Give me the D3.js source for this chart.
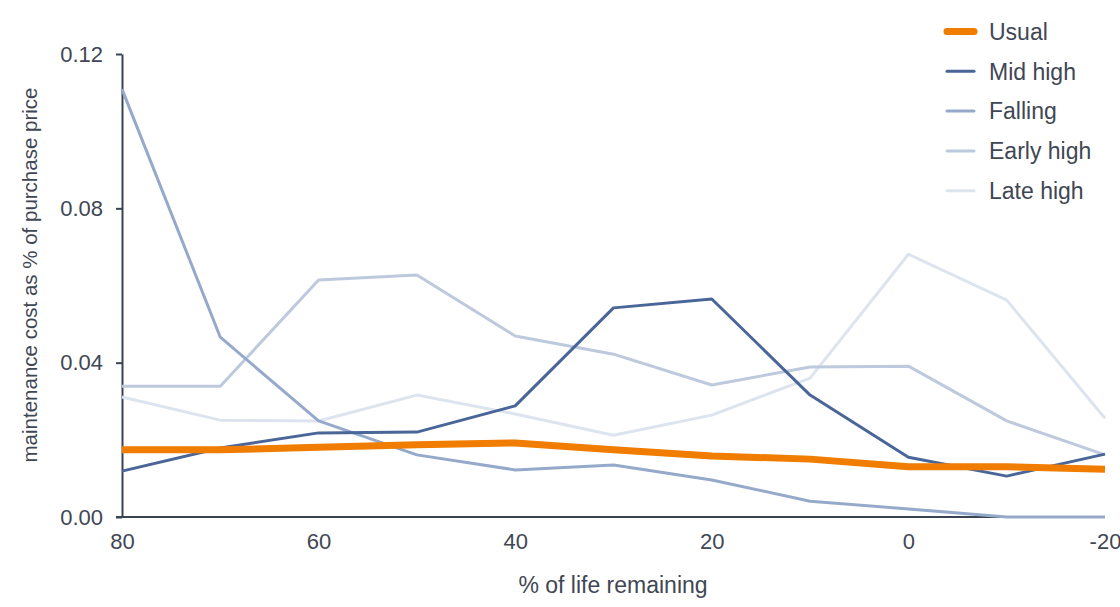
<!DOCTYPE html>
<html><head><meta charset="utf-8">
<script src="https://cdn.jsdelivr.net/npm/d3@7"></script>
<style>
html,body{margin:0;padding:0;background:#fff;}
text{font-family:"Liberation Sans",Arial,sans-serif;fill:#3f4754;}
</style></head>
<body><svg id="c" width="1120" height="607"></svg>
<script>
const xValues = [80,70,60,50,40,30,20,10,0,-10,-20];
const usual    = [0.0174,0.0174,0.0181,0.0187,0.0192,0.0174,0.0158,0.0150,0.0130,0.0130,0.0124];
const midHigh  = [0.0119,0.0179,0.0218,0.0220,0.0288,0.0542,0.0565,0.0316,0.0155,0.0106,0.0163];
const falling  = [0.1109,0.0466,0.0249,0.0161,0.0122,0.0135,0.0096,0.0041,0.0021,0.0,0.0];
const earlyHigh= [0.0339,0.0339,0.0614,0.0627,0.0469,0.0422,0.0342,0.0389,0.0391,0.0249,0.0161];
const lateHigh = [0.0311,0.0251,0.0249,0.0316,0.0267,0.0212,0.0264,0.0360,0.0681,0.0562,0.0256];
const seriesNames = ["Usual","Mid high","Falling","Early high","Late high"];
const xTicks = [80,60,40,20,0,-20];
const xTickLabels = ["80","60","40","20","0","-20"];
const yTicks = [0,0.04,0.08,0.12];
const yTickLabels = ["0.00","0.04","0.08","0.12"];

const series = [
  {name:seriesNames[0], values:usual, color:"#f07c00", width:7},
  {name:seriesNames[1], values:midHigh, color:"#4a6699", width:3},
  {name:seriesNames[2], values:falling, color:"#95a9cb", width:3},
  {name:seriesNames[3], values:earlyHigh, color:"#bdc9dd", width:3},
  {name:seriesNames[4], values:lateHigh, color:"#dde4ef", width:3}
];

const svg = d3.select("#c");
const x = d3.scaleLinear().domain([80,-20]).range([122,1105]);
const y = d3.scaleLinear().domain([0,0.12]).range([517,54]);
const axisColor = "#3a4352";
const fam = "'Liberation Sans',Arial,sans-serif";

// y axis
const ya = svg.append("g").attr("transform","translate(122,0)")
  .call(d3.axisLeft(y).tickValues(yTicks).tickFormat((d,i)=>yTickLabels[i]).tickSize(6).tickPadding(13).tickSizeOuter(0));
ya.select(".domain").attr("stroke",axisColor).attr("stroke-width",2);
ya.selectAll(".tick line").attr("stroke",axisColor).attr("stroke-width",2);
ya.selectAll(".tick text").attr("font-size",22).attr("fill","#3f4754").style("font-family",fam);

// x axis
const xa = svg.append("g").attr("transform","translate(0,517)")
  .call(d3.axisBottom(x).tickValues(xTicks).tickFormat((d,i)=>xTickLabels[i]).tickSize(0).tickPadding(16).tickSizeOuter(0));
xa.select(".domain").attr("stroke",axisColor).attr("stroke-width",2).attr("d","M116,0H1105");
xa.selectAll(".tick text").attr("font-size",22).attr("fill","#3f4754").style("font-family",fam);

// titles
svg.append("text").attr("x",613).attr("y",593).attr("text-anchor","middle").attr("font-size",23).text("% of life remaining");
svg.append("text").attr("transform","translate(37,275) rotate(-90)").attr("text-anchor","middle").attr("font-size",20.5).text("maintenance cost as % of purchase price");

// lines (lighter first, usual on top)
const line = d3.line().x((d,i)=>x(xValues[i])).y(d=>y(d));
[4,3,2,1,0].forEach(k=>{
  const s = series[k];
  svg.append("path").datum(s.values).attr("d",line).attr("fill","none")
    .attr("stroke",s.color).attr("stroke-width",s.width).attr("stroke-linejoin","round");
});

// legend
const lg = svg.append("g");
series.forEach((s,i)=>{
  const yy = 31.5 + i*39.8;
  lg.append("line").attr("x1",947).attr("x2",974).attr("y1",yy).attr("y2",yy)
    .attr("stroke",s.color).attr("stroke-width",s.width).attr("stroke-linecap","round");
  lg.append("text").attr("x",989).attr("y",yy).attr("dy","0.36em").attr("font-size",23).text(s.name);
});
</script></body></html>
